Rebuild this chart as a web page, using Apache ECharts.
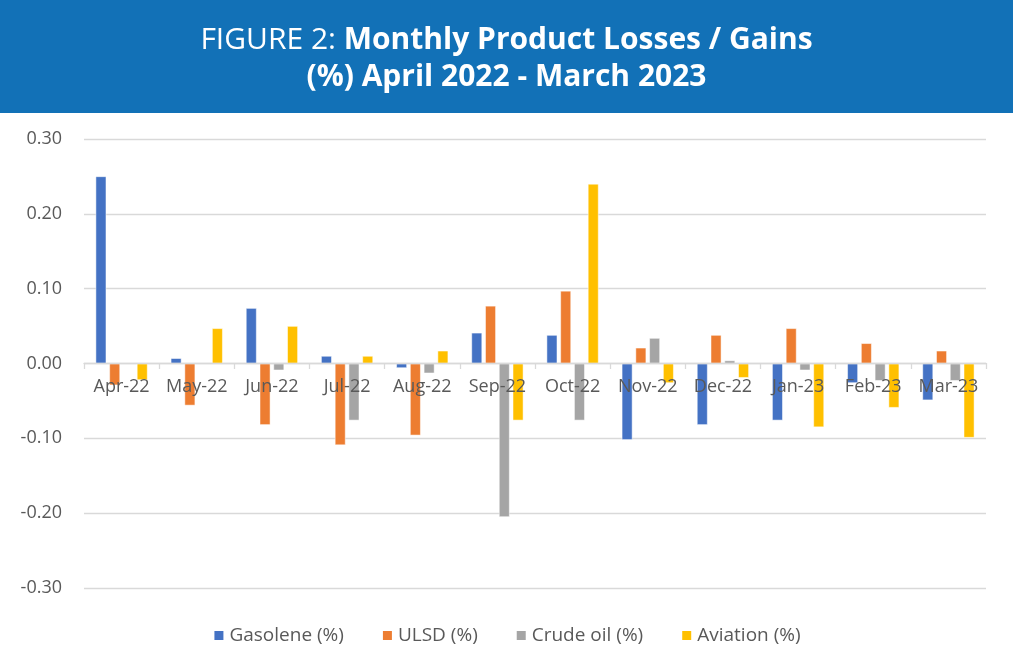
<!DOCTYPE html>
<html>
<head>
<meta charset="utf-8">
<script src="https://cdn.jsdelivr.net/npm/echarts@6/dist/echarts.min.js"></script>
<style>
  html, body { margin: 0; padding: 0; background: #fff; }
  #chart { width: 1013px; height: 647px; }
</style>
</head>
<body>
<div id="chart"></div>
<script>
// months on the x axis
const months = ['Apr-22', 'May-22', 'Jun-22', 'Jul-22', 'Aug-22', 'Sep-22',
  'Oct-22', 'Nov-22', 'Dec-22', 'Jan-23', 'Feb-23', 'Mar-23'];

// losses / gains in %
const gasolene = [0.250, 0.007, 0.074, 0.010, -0.006, 0.041, 0.038, -0.102, -0.082, -0.076, -0.026, -0.049];
const ulsd = [-0.029, -0.056, -0.082, -0.109, -0.096, 0.077, 0.097, 0.021, 0.038, 0.047, 0.027, 0.017];
const crudeOil = [0, 0, -0.009, -0.076, -0.013, -0.205, -0.076, 0.034, 0.004, -0.009, -0.023, -0.023];
const aviation = [-0.022, 0.047, 0.050, 0.010, 0.017, -0.076, 0.240, -0.026, -0.019, -0.085, -0.059, -0.099];

const seriesNames = ['Gasolene (%)', 'ULSD (%)', 'Crude oil (%)', 'Aviation (%)'];
const colors = ['#4472C4', '#ED7D31', '#A5A5A5', '#FFC000'];

const textColor = '#595959';
const font = 'Open Sans';

const chart = echarts.init(document.getElementById('chart'), null, { renderer: 'canvas' });

function bar(name, data) {
  return {
    name: name,
    type: 'bar',
    data: data,
    barGap: '30%',
    barCategoryGap: '31%',
    itemStyle: { borderColor: '#fff', borderWidth: 0.5 },
    animation: false
  };
}

chart.setOption({
  color: colors,
  graphic: [
    {
      type: 'rect',
      left: 0,
      top: 0,
      z: -1,
      shape: { width: 1013, height: 113 },
      style: { fill: '#1271B7' }
    }
  ],
  title: {
    left: 'center',
    top: 17,
    text: '{l|FIGURE 2: }{b|Monthly Product Losses / Gains}\n{b|(%) April 2022 - March 2023}',
    textStyle: {
      rich: {
        l: { color: '#fff', fontFamily: font, fontSize: 30, fontWeight: 'normal', lineHeight: 37 },
        b: { color: '#fff', fontFamily: font, fontSize: 30, fontWeight: 'bold', lineHeight: 37 }
      }
    }
  },
  legend: {
    top: 621,
    left: 'center',
    itemWidth: 11,
    itemHeight: 11,
    itemGap: 37,
    icon: 'rect',
    textStyle: { color: textColor, fontFamily: font, fontSize: 19 },
    data: seriesNames
  },
  grid: {
    left: 84,
    right: 27,
    top: 139,
    bottom: 59
  },
  xAxis: {
    type: 'category',
    data: months,
    // axis sits on the zero line, labels hang below it over the bars
    offset: -225,
    axisLine: { onZero: false, lineStyle: { color: '#D9D9D9', width: 1.3 } },
    axisTick: { show: true, length: 6, lineStyle: { color: '#D9D9D9', width: 1.3 } },
    axisLabel: { color: textColor, fontFamily: font, fontSize: 18, margin: 15, interval: 0 },
    splitLine: { show: false },
    z: 5
  },
  yAxis: {
    type: 'value',
    min: -0.3,
    max: 0.3,
    interval: 0.1,
    axisLine: { show: false },
    axisTick: { show: false },
    axisLabel: {
      color: textColor,
      fontFamily: font,
      fontSize: 18,
      margin: 22,
      formatter: v => v.toFixed(2)
    },
    splitLine: { lineStyle: { color: '#D9D9D9', width: 1.3 } }
  },
  series: [
    bar(seriesNames[0], gasolene),
    bar(seriesNames[1], ulsd),
    bar(seriesNames[2], crudeOil),
    bar(seriesNames[3], aviation)
  ]
});
</script>
</body>
</html>
